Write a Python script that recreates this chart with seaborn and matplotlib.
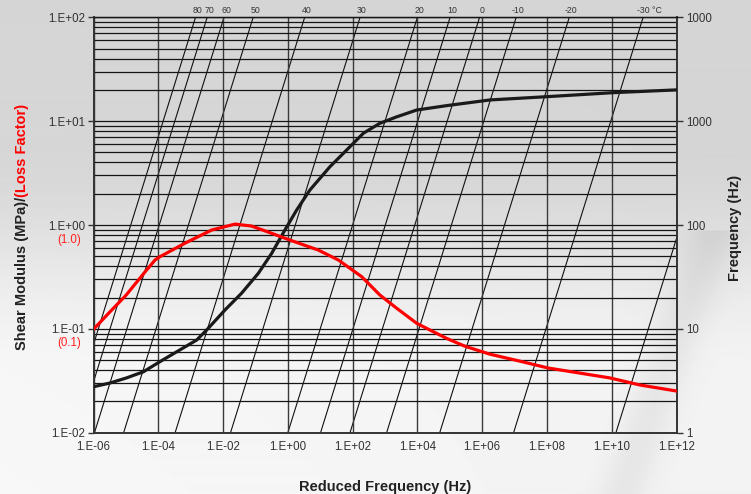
import numpy as np
import pandas as pd
import matplotlib
matplotlib.use("Agg")
import matplotlib.pyplot as plt
from matplotlib import font_manager as fm
from matplotlib.ticker import FixedLocator, FixedFormatter, LogLocator, NullFormatter
import seaborn as sns

# ---------------- data ----------------
modulus_log_freq = [-6.0, -5.49, -4.98, -4.46, -3.95, -2.81, -2.46, -1.94, -1.43, -0.91,
                    -0.50, -0.09, 0.27, 0.68, 1.30, 1.92, 2.33, 2.84, 3.36, 3.98,
                    4.90, 6.24, 7.99, 10.04, 12.0]
modulus_mpa = [0.0277, 0.0301, 0.0337, 0.0386, 0.0483, 0.0782, 0.101, 0.152, 0.220, 0.343,
               0.533, 0.895, 1.39, 2.17, 3.64, 5.68, 7.64, 9.53, 11.0, 12.8,
               14.1, 16.0, 17.2, 18.8, 20.0]

loss_log_freq = [-6.0, -5.49, -5.0, -4.36, -4.10, -3.95, -3.18, -2.35, -1.63, -1.12,
                 -0.50, 0.12, 0.94, 1.56, 2.28, 2.84, 3.36, 3.98, 4.90, 5.47,
                 6.24, 7.16, 8.03, 9.94, 10.87, 12.0]
loss_factor = [0.099, 0.146, 0.210, 0.369, 0.46, 0.495, 0.667, 0.895, 1.02, 0.977,
               0.832, 0.706, 0.574, 0.460, 0.318, 0.212, 0.158, 0.113, 0.081, 0.068,
               0.057, 0.0489, 0.042, 0.0337, 0.0288, 0.0252]

iso_labels = ["80", "70", "60", "50", "40", "30", "20", "10", "0", "-10", "-20", "-30 °C", ""]
iso_log_shift = [-6.85, -6.49, -5.97, -5.07, -3.48, -1.77, 0.0, 1.01, 1.92, 3.05, 4.69, 6.97, 10.13]

x_tick_exps = [-6, -4, -2, 0, 2, 4, 6, 8, 10, 12]
x_tick_labels = ["1.E-06", "1.E-04", "1.E-02", "1.E+00", "1.E+02", "1.E+04",
                 "1.E+06", "1.E+08", "1.E+10", "1.E+12"]
y_tick_values = [0.01, 0.1, 1, 10, 100]
y_tick_labels = ["1.E-02", "1.E-01", "1.E+00", "1.E+01", "1.E+02"]
loss_tick_values = [1.0, 0.1]
loss_tick_labels = ["(1.0)", "(0.1)"]
freq_tick_values = [1, 10, 100, 1000, 10000]
freq_tick_labels = ["1", "10", "100", "1000", "1000"]
iso_freq_range = [1, 10000]

# ---------------- style ----------------
sns.set_style("white")
names = {f.name for f in fm.fontManager.ttflist}
narrow = "Liberation Sans Narrow" if "Liberation Sans Narrow" in names else "Liberation Sans"
plt.rcParams["font.family"] = ["Liberation Sans", "DejaVu Sans"]

W, H = 751, 494
fig = plt.figure(figsize=(W / 100, H / 100), dpi=100)

# background gradient (textured grey photo approximation)
bg = fig.add_axes([0, 0, 1, 1], zorder=-10)
yy, xx = np.mgrid[0:H, 0:W]
t = np.clip((yy / H - 0.30) / 0.45, 0, 1)
t = t * t * (3 - 2 * t)
val = 0.835 + 0.115 * t + 0.02 * (1 - xx / W) * (yy / H)
band = np.exp(-(((xx - 690) + (yy - 300) * 0.35) / 25.0) ** 2) * (yy > 230) * 0.05
val = val - band
bg.imshow(val, cmap="gray", vmin=0, vmax=1, aspect="auto", interpolation="bilinear")
bg.axis("off")

left, right = 93.5 / W, 676.5 / W
bottom, top = 1 - 432.7 / H, 1 - 17.3 / H
ax = fig.add_axes([left, bottom, right - left, top - bottom])
ax2 = ax.twinx()
ax.set_zorder(ax2.get_zorder() + 1)
ax.patch.set_alpha(0)
ax2.patch.set_alpha(0)

for a in (ax, ax2):
    a.set_xscale("log")
    a.set_yscale("log")
    a.set_xlim(10.0 ** x_tick_exps[0], 10.0 ** x_tick_exps[-1])
ax.set_ylim(y_tick_values[0], y_tick_values[-1])
ax2.set_ylim(freq_tick_values[0], freq_tick_values[-1])

# isotherm lines on the frequency axis
iso_rows = []
for lab, s in zip(iso_labels, iso_log_shift):
    for f in iso_freq_range:
        iso_rows.append({"T": f"{lab}|{s}", "fr": f * 10.0 ** s, "f": f})
iso_df = pd.DataFrame(iso_rows)
sns.lineplot(data=iso_df, x="fr", y="f", units="T", estimator=None, color="#111111",
             lw=0.8, ax=ax2, legend=False, sort=False)

# curves
mod_df = pd.DataFrame({"fr": 10.0 ** np.array(modulus_log_freq), "G": modulus_mpa})
loss_df = pd.DataFrame({"fr": 10.0 ** np.array(loss_log_freq), "eta": loss_factor})
sns.lineplot(data=mod_df, x="fr", y="G", color="#1a1a1a", lw=2.3, ax=ax, sort=False, zorder=5)
sns.lineplot(data=loss_df, x="fr", y="eta", color="#ff0000", lw=2.3, ax=ax, sort=False, zorder=6)

# grid
ax.yaxis.set_minor_locator(LogLocator(base=10, subs=np.arange(2, 10)))
ax.yaxis.set_minor_formatter(NullFormatter())
ax.grid(True, which="both", axis="y", color="#151515", lw=0.9)
ax.set_xticks([10.0 ** e for e in x_tick_exps])
ax.set_xticklabels(x_tick_labels)
ax.xaxis.set_minor_locator(FixedLocator([]))
ax.grid(True, which="major", axis="x", color="#3a3a3a", lw=1.0)
ax.set_axisbelow(True)

ax.set_yticks(y_tick_values)
ax.set_yticklabels(y_tick_labels)
ax.tick_params(axis="both", which="major", direction="out", length=4, width=1.0,
               color="#333333", labelsize=8.3, labelcolor="#333333", pad=2)
ax.tick_params(axis="y", which="minor", length=0)
ax.set_xlabel("")
ax.set_ylabel("")

ax2.yaxis.set_major_locator(FixedLocator(freq_tick_values))
ax2.yaxis.set_major_formatter(FixedFormatter(freq_tick_labels))
ax2.yaxis.set_minor_locator(FixedLocator([]))
ax2.tick_params(axis="y", which="major", direction="out", length=4, width=1.0,
                color="#333333", labelsize=8.3, labelcolor="#333333", pad=3)
ax2.tick_params(axis="x", which="both", length=0, labelbottom=False)
ax2.set_xlabel("")
ax2.set_ylabel("")

for a in (ax, ax2):
    for side in ("left", "bottom", "right"):
        a.spines[side].set_visible(True)
        a.spines[side].set_color("#333333")
        a.spines[side].set_linewidth(1.2)
    a.spines["top"].set_visible(True)
    a.spines["top"].set_color("#151515")
    a.spines["top"].set_linewidth(0.9)

# red loss-factor labels on left axis
for v, lab in zip(loss_tick_values, loss_tick_labels):
    ax.annotate(lab, xy=(0, v), xycoords=("axes fraction", "data"),
                xytext=(-24.5, -14.5), textcoords="offset pixels",
                ha="center", va="center", color="#ff2020", fontsize=8.3,
                annotation_clip=False)

# temperature labels along top
for lab, s in zip(iso_labels, iso_log_shift):
    xtop = 10.0 ** (s + np.log10(iso_freq_range[1]))
    if not lab or xtop > 10.0 ** x_tick_exps[-1]:
        continue
    if "°C" in lab:
        ax.annotate(lab, xy=(xtop, 1), xycoords=("data", "axes fraction"),
                    xytext=(-6, 7), textcoords="offset pixels", ha="left",
                    va="center", fontsize=6.3, color="#333333", annotation_clip=False)
    else:
        ax.annotate(lab, xy=(xtop, 1), xycoords=("data", "axes fraction"),
                    xytext=(2, 7), textcoords="offset pixels", ha="center",
                    va="center", fontsize=6.3, color="#333333", annotation_clip=False)

# axis titles
title_kw = dict(family=[narrow, "Liberation Sans", "DejaVu Sans"], weight="bold", fontsize=10.5)
fig.text(385 / W, 1 - 487 / H, "Reduced Frequency (Hz)", ha="center", va="center",
         color="#222222", **title_kw)
fig.text(735 / W, 1 - 228 / H, "Frequency (Hz)", ha="center", va="center",
         rotation=90, color="#222222", **title_kw)

fig.canvas.draw()
renderer = fig.canvas.get_renderer()
t1 = fig.text(22 / W, 1 - 350 / H, "Shear Modulus (MPa)/", ha="center", va="bottom",
              rotation=90, color="#222222", **title_kw)
bb = t1.get_window_extent(renderer)
fig.text(22 / W, bb.y1 / H, "(Loss Factor)", ha="center", va="bottom",
         rotation=90, color="#ff0000", **title_kw)

fig.savefig("out.png", dpi=100)
